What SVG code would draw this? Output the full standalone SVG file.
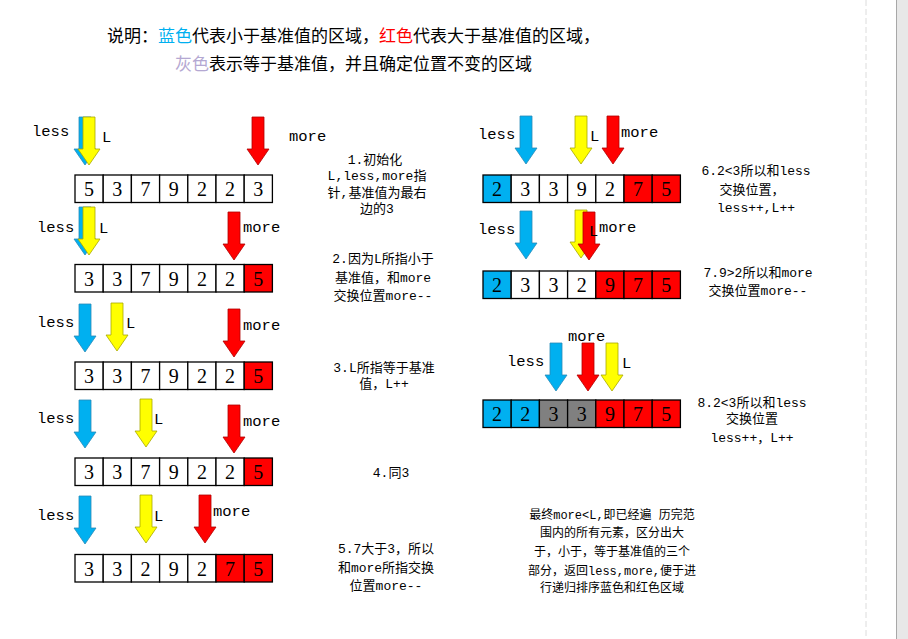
<svg xmlns="http://www.w3.org/2000/svg" xmlns:xlink="http://www.w3.org/1999/xlink" width="908" height="639" viewBox="0 0 908 639">
<style>
.t{font-family:"Noto Sans CJK SC","Noto Sans",sans-serif;font-size:17px;fill:#000}
.note{font-family:"Liberation Mono","Noto Sans CJK SC",monospace;font-size:13px;fill:#000;text-anchor:middle}
.fin{font-size:12px}
.lbl{font-family:"Liberation Mono","DejaVu Sans Mono",monospace;font-size:15.5px;fill:#000}
.c{stroke:#000;stroke-width:1.3;fill:#fff}
.cb{fill:#00b0f0}
.cr{fill:#ff0000}
.cg{fill:#808080}
.d{font-family:"Liberation Serif",serif;font-size:20px;fill:#000;text-anchor:middle}
.ab{fill:#00b0f0;stroke:#2a8ab8;stroke-width:0.8}
.ay{fill:#ffff00;stroke:#a8a800;stroke-width:0.8}
.ar{fill:#ff0000;stroke:#b00000;stroke-width:0.8}
</style>
<defs>
<path id="arr" d="M-6,0H6V32H11L0,48L-11,32H-6Z"/>
</defs>
<rect x="0" y="0" width="908" height="639" fill="#fff"/>
<line x1="866" y1="0" x2="866" y2="639" stroke="#dcdcdc" stroke-width="1" stroke-dasharray="6,3"/>
<rect x="896" y="0" width="12" height="639" fill="#e8e8e8"/>
<line x1="896.5" y1="0" x2="896.5" y2="639" stroke="#a8a8a8" stroke-width="1"/>

<g id="title">
<text class="t" x="107" y="41.5">说明：<tspan fill="#00b0f0">蓝色</tspan>代表小于基准值的区域，<tspan fill="#ff0000">红色</tspan>代表大于基准值的区域，</text>
<text class="t" x="175" y="69.5"><tspan fill="#b4a8d2">灰色</tspan>表示等于基准值，并且确定位置不变的区域</text>
</g>

<g id="connectors">
<use href="#arr" x="85" y="117" class="ab"/>
<use href="#arr" x="89" y="117" class="ay"/>
<use href="#arr" x="258" y="117" class="ar"/>
<use href="#arr" x="85" y="207" class="ab"/>
<use href="#arr" x="89" y="207" class="ay"/>
<use href="#arr" x="234" y="212" class="ar"/>
<use href="#arr" x="85" y="304" class="ab"/>
<use href="#arr" x="117" y="303" class="ay"/>
<use href="#arr" x="234" y="309" class="ar"/>
<use href="#arr" x="85" y="400" class="ab"/>
<use href="#arr" x="146" y="399" class="ay"/>
<use href="#arr" x="234" y="405" class="ar"/>
<use href="#arr" x="85" y="496" class="ab"/>
<use href="#arr" x="146" y="495" class="ay"/>
<use href="#arr" x="205" y="495" class="ar"/>
<use href="#arr" x="526" y="116" class="ab"/>
<use href="#arr" x="581" y="116" class="ay"/>
<use href="#arr" x="613" y="116" class="ar"/>
<use href="#arr" x="526" y="211" class="ab"/>
<use href="#arr" x="581" y="210" class="ay"/>
<use href="#arr" x="589" y="212" class="ar"/>
<use href="#arr" x="556" y="343" class="ab"/>
<use href="#arr" x="588" y="343" class="ar"/>
<use href="#arr" x="612" y="343" class="ay"/>
</g>

<g id="step1">
<text class="lbl" x="32" y="136">less</text>
<text class="lbl" x="102" y="142">L</text>
<text class="lbl" x="289" y="141">more</text>
<g transform="translate(75,175)">
<rect class="c" x="0" y="0" width="28.2" height="27.5"/>
<rect class="c" x="28.2" y="0" width="28.2" height="27.5"/>
<rect class="c" x="56.4" y="0" width="28.2" height="27.5"/>
<rect class="c" x="84.6" y="0" width="28.2" height="27.5"/>
<rect class="c" x="112.8" y="0" width="28.2" height="27.5"/>
<rect class="c" x="141" y="0" width="28.2" height="27.5"/>
<rect class="c" x="169.2" y="0" width="28.2" height="27.5"/>
<text class="d" x="14.1" y="21">5</text><text class="d" x="42.3" y="21">3</text><text class="d" x="70.5" y="21">7</text><text class="d" x="98.7" y="21">9</text><text class="d" x="126.9" y="21">2</text><text class="d" x="155.1" y="21">2</text><text class="d" x="183.3" y="21">3</text>
</g>
<text class="note"><tspan x="375" y="164">1.初始化</tspan><tspan x="377" y="180">L,less,more指</tspan><tspan x="377" y="197">针,基准值为最右</tspan><tspan x="377" y="213">边的3</tspan></text>
</g>

<g id="step2">
<text class="lbl" x="37" y="232">less</text>
<text class="lbl" x="99" y="233">L</text>
<text class="lbl" x="243" y="232">more</text>
<g transform="translate(75,264.5)">
<rect class="c" x="0" y="0" width="28.2" height="27.5"/>
<rect class="c" x="28.2" y="0" width="28.2" height="27.5"/>
<rect class="c" x="56.4" y="0" width="28.2" height="27.5"/>
<rect class="c" x="84.6" y="0" width="28.2" height="27.5"/>
<rect class="c" x="112.8" y="0" width="28.2" height="27.5"/>
<rect class="c" x="141" y="0" width="28.2" height="27.5"/>
<rect class="c cr" x="169.2" y="0" width="28.2" height="27.5"/>
<text class="d" x="14.1" y="21">3</text><text class="d" x="42.3" y="21">3</text><text class="d" x="70.5" y="21">7</text><text class="d" x="98.7" y="21">9</text><text class="d" x="126.9" y="21">2</text><text class="d" x="155.1" y="21">2</text><text class="d" x="183.3" y="21">5</text>
</g>
<text class="note"><tspan x="383" y="263">2.因为L所指小于</tspan><tspan x="383" y="282">基准值，和more</tspan><tspan x="383" y="300">交换位置more--</tspan></text>
</g>

<g id="step3">
<text class="lbl" x="37" y="327">less</text>
<text class="lbl" x="126" y="328">L</text>
<text class="lbl" x="243" y="330">more</text>
<g transform="translate(75,362)">
<rect class="c" x="0" y="0" width="28.2" height="27.5"/>
<rect class="c" x="28.2" y="0" width="28.2" height="27.5"/>
<rect class="c" x="56.4" y="0" width="28.2" height="27.5"/>
<rect class="c" x="84.6" y="0" width="28.2" height="27.5"/>
<rect class="c" x="112.8" y="0" width="28.2" height="27.5"/>
<rect class="c" x="141" y="0" width="28.2" height="27.5"/>
<rect class="c cr" x="169.2" y="0" width="28.2" height="27.5"/>
<text class="d" x="14.1" y="21">3</text><text class="d" x="42.3" y="21">3</text><text class="d" x="70.5" y="21">7</text><text class="d" x="98.7" y="21">9</text><text class="d" x="126.9" y="21">2</text><text class="d" x="155.1" y="21">2</text><text class="d" x="183.3" y="21">5</text>
</g>
<text class="note"><tspan x="384" y="372">3.L所指等于基准</tspan><tspan x="384" y="388">值，L++</tspan></text>
</g>

<g id="step4">
<text class="lbl" x="37" y="423">less</text>
<text class="lbl" x="154" y="424">L</text>
<text class="lbl" x="243" y="426">more</text>
<g transform="translate(75,458)">
<rect class="c" x="0" y="0" width="28.2" height="27.5"/>
<rect class="c" x="28.2" y="0" width="28.2" height="27.5"/>
<rect class="c" x="56.4" y="0" width="28.2" height="27.5"/>
<rect class="c" x="84.6" y="0" width="28.2" height="27.5"/>
<rect class="c" x="112.8" y="0" width="28.2" height="27.5"/>
<rect class="c" x="141" y="0" width="28.2" height="27.5"/>
<rect class="c cr" x="169.2" y="0" width="28.2" height="27.5"/>
<text class="d" x="14.1" y="21">3</text><text class="d" x="42.3" y="21">3</text><text class="d" x="70.5" y="21">7</text><text class="d" x="98.7" y="21">9</text><text class="d" x="126.9" y="21">2</text><text class="d" x="155.1" y="21">2</text><text class="d" x="183.3" y="21">5</text>
</g>
<text class="note" x="391" y="477">4.同3</text>
</g>

<g id="step5">
<text class="lbl" x="37" y="520">less</text>
<text class="lbl" x="154" y="521">L</text>
<text class="lbl" x="213" y="516">more</text>
<g transform="translate(75,554.5)">
<rect class="c" x="0" y="0" width="28.2" height="27.5"/>
<rect class="c" x="28.2" y="0" width="28.2" height="27.5"/>
<rect class="c" x="56.4" y="0" width="28.2" height="27.5"/>
<rect class="c" x="84.6" y="0" width="28.2" height="27.5"/>
<rect class="c" x="112.8" y="0" width="28.2" height="27.5"/>
<rect class="c cr" x="141" y="0" width="28.2" height="27.5"/>
<rect class="c cr" x="169.2" y="0" width="28.2" height="27.5"/>
<text class="d" x="14.1" y="21">3</text><text class="d" x="42.3" y="21">3</text><text class="d" x="70.5" y="21">2</text><text class="d" x="98.7" y="21">9</text><text class="d" x="126.9" y="21">2</text><text class="d" x="155.1" y="21">7</text><text class="d" x="183.3" y="21">5</text>
</g>
<text class="note"><tspan x="386" y="553">5.7大于3，所以</tspan><tspan x="386" y="572">和more所指交换</tspan><tspan x="386" y="590">位置more--</tspan></text>
</g>

<g id="step6">
<text class="lbl" x="478" y="139">less</text>
<text class="lbl" x="590" y="141">L</text>
<text class="lbl" x="621" y="137">more</text>
<g transform="translate(483,175)">
<rect class="c cb" x="0" y="0" width="28.2" height="27.5"/>
<rect class="c" x="28.2" y="0" width="28.2" height="27.5"/>
<rect class="c" x="56.4" y="0" width="28.2" height="27.5"/>
<rect class="c" x="84.6" y="0" width="28.2" height="27.5"/>
<rect class="c" x="112.8" y="0" width="28.2" height="27.5"/>
<rect class="c cr" x="141" y="0" width="28.2" height="27.5"/>
<rect class="c cr" x="169.2" y="0" width="28.2" height="27.5"/>
<text class="d" x="14.1" y="21">2</text><text class="d" x="42.3" y="21">3</text><text class="d" x="70.5" y="21">3</text><text class="d" x="98.7" y="21">9</text><text class="d" x="126.9" y="21">2</text><text class="d" x="155.1" y="21">7</text><text class="d" x="183.3" y="21">5</text>
</g>
<text class="note"><tspan x="756" y="175">6.2&lt;3所以和less</tspan><tspan x="752" y="194">交换位置，</tspan><tspan x="756" y="212">less++,L++</tspan></text>
</g>

<g id="step7">
<text class="lbl" x="478" y="234">less</text>
<text class="lbl" x="589" y="236">L</text>
<text class="lbl" x="599" y="232">more</text>
<g transform="translate(483,271)">
<rect class="c cb" x="0" y="0" width="28.2" height="27.5"/>
<rect class="c" x="28.2" y="0" width="28.2" height="27.5"/>
<rect class="c" x="56.4" y="0" width="28.2" height="27.5"/>
<rect class="c" x="84.6" y="0" width="28.2" height="27.5"/>
<rect class="c cr" x="112.8" y="0" width="28.2" height="27.5"/>
<rect class="c cr" x="141" y="0" width="28.2" height="27.5"/>
<rect class="c cr" x="169.2" y="0" width="28.2" height="27.5"/>
<text class="d" x="14.1" y="21">2</text><text class="d" x="42.3" y="21">3</text><text class="d" x="70.5" y="21">3</text><text class="d" x="98.7" y="21">2</text><text class="d" x="126.9" y="21">9</text><text class="d" x="155.1" y="21">7</text><text class="d" x="183.3" y="21">5</text>
</g>
<text class="note"><tspan x="758" y="277">7.9&gt;2所以和more</tspan><tspan x="758" y="295">交换位置more--</tspan></text>
</g>

<g id="step8">
<text class="lbl" x="507" y="366">less</text>
<text class="lbl" x="568" y="341">more</text>
<text class="lbl" x="622" y="368">L</text>
<g transform="translate(483,400)">
<rect class="c cb" x="0" y="0" width="28.2" height="27.5"/>
<rect class="c cb" x="28.2" y="0" width="28.2" height="27.5"/>
<rect class="c cg" x="56.4" y="0" width="28.2" height="27.5"/>
<rect class="c cg" x="84.6" y="0" width="28.2" height="27.5"/>
<rect class="c cr" x="112.8" y="0" width="28.2" height="27.5"/>
<rect class="c cr" x="141" y="0" width="28.2" height="27.5"/>
<rect class="c cr" x="169.2" y="0" width="28.2" height="27.5"/>
<text class="d" x="14.1" y="21">2</text><text class="d" x="42.3" y="21">2</text><text class="d" x="70.5" y="21">3</text><text class="d" x="98.7" y="21">3</text><text class="d" x="126.9" y="21">9</text><text class="d" x="155.1" y="21">7</text><text class="d" x="183.3" y="21">5</text>
</g>
<text class="note"><tspan x="752" y="407">8.2&lt;3所以和less</tspan><tspan x="752" y="423">交换位置</tspan><tspan x="752" y="442">less++，L++</tspan></text>
</g>

<g id="summary">
<text class="note fin"><tspan x="612" y="519">最终more&lt;L,即已经遍 历完范</tspan><tspan x="612" y="537">围内的所有元素，区分出大</tspan><tspan x="612" y="556">于，小于，等于基准值的三个</tspan><tspan x="612" y="575">部分，返回less,more,便于进</tspan><tspan x="612" y="592">行递归排序蓝色和红色区域</tspan></text>
</g>
</svg>
